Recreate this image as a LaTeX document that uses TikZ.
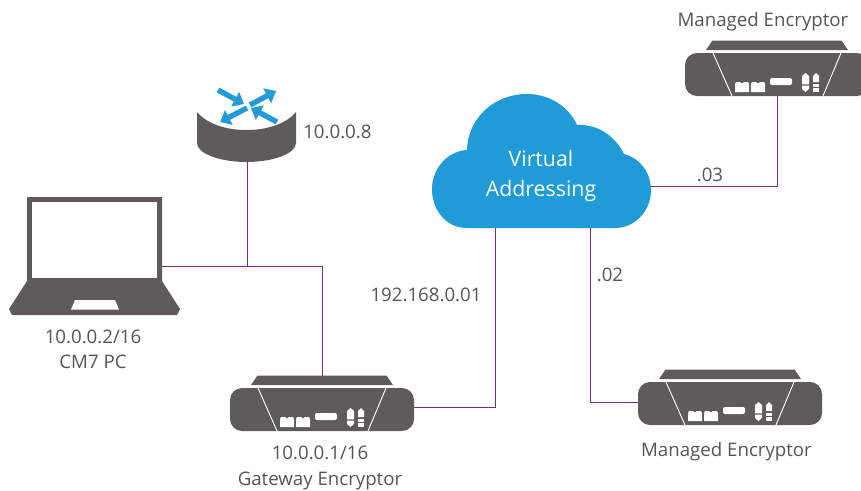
\documentclass[tikz,border=0pt]{standalone}
\usepackage{fontspec}
\setmainfont{Open Sans}
\usetikzlibrary{arrows.meta}
\definecolor{dev}{HTML}{5F5B5C}
\definecolor{cloudb}{HTML}{209BD7}
\definecolor{wire}{HTML}{7B2D7F}
\definecolor{txt}{HTML}{555555}
\tikzset{
  x=0.75pt,y=-0.75pt,
  wirel/.style={draw=wire,line width=0.75pt},
  lab/.style={text=txt,font=\fontsize{14}{19}\selectfont,align=center,inner sep=0pt},
  iconbox/.style={inner sep=0pt,minimum width=#1*0.75pt},
  routerarrow/.style={draw=cloudb,line width=4pt,-{Triangle[length=7.5pt,width=12pt]}},
  pics/device/.style={code={
    \fill[dev] (-64.5,-34.5) -- (64.5,-34.5) -- (71,-25) -- (-71,-25) -- cycle;
    \fill[dev,rounded corners=9pt] (-92,-22) rectangle (92,21);
    \draw[white,line width=0.7pt] (-64,-22) -- (-45,21) (64,-22) -- (46,21);
    \fill[white] (-42,9) -- (-41,7) -- (-37,7) -- (-35,8.5) -- (-33,7) -- (-29,7) -- (-28,9) -- (-28,17) -- (-42,17) -- cycle;
    \fill[white] (-26,9) -- (-25,7) -- (-21,7) -- (-19,8.5) -- (-17,7) -- (-13,7) -- (-12,9) -- (-12,17) -- (-26,17) -- cycle;
    \fill[white,rounded corners=1.5pt] (-7,3) rectangle (15,10);
    \fill[white] (25,1) -- (28.5,-2) -- (32,1) -- (32,9.3) -- (25,9.3) -- cycle;
    \fill[white] (25,10.7) -- (32,10.7) -- (32,14) -- (28.5,17) -- (25,14) -- cycle;
    \fill[white] (36,1) -- (39,-2) -- (42,1) -- (42,7) -- (36,7) -- cycle;
    \fill[white] (36,8.5) rectangle (42,12);
    \fill[white] (36,13) rectangle (42,17);
  }},
}
\begin{document}
\begin{tikzpicture}
\useasboundingbox (0,0) rectangle (861,490);
% invisible nodes giving the icons their names and connection points
\node[iconbox=184,minimum height=47.55pt] (gw) at (322,407.7) {};
\node[iconbox=184,minimum height=47.55pt] (me2) at (730,402.7) {};
\node[iconbox=184,minimum height=42pt] (me1) at (777.3,68) {};
\node[iconbox=98,minimum height=54pt] (router) at (247,126) {};
\node[iconbox=133,minimum height=73.5pt] (laptop) at (95.5,266) {};
\node[iconbox=219,minimum height=63pt] (cloud) at (541.5,186) {};
% connectors
\draw[wirel] (laptop.east) -| (gw.north);
\draw[wirel] (router.south) -- (router.south |- laptop.east);
\draw[wirel] (gw.east) -| ([xshift=-34.875pt]cloud.south);
\draw[wirel] ([xshift=36.375pt]cloud.south) |- (me2.west);
\draw[wirel] (cloud.east) -| (me1.south);
% cloud
\fill[cloudb] (467,228)
  .. controls (445,228) and (432,209) .. (432,189)
  .. controls (432,168) and (448,151) .. (467,150)
  .. controls (468,118) and (494,94) .. (527,94)
  .. controls (550,94) and (569,107) .. (577,125)
  .. controls (600,124) and (616,138) .. (624,154)
  .. controls (640,158) and (651,173) .. (651,190)
  .. controls (651,211) and (635,228) .. (615,228)
  -- cycle;
\node[text=white,font=\fontsize{16}{22}\selectfont,align=center,inner sep=0pt] (cloudlab) at (541,176) {Virtual\\Addressing};
% router
\fill[dev] (197,112) .. controls (207,124) and (226,130) .. (246.5,130) .. controls (267,130) and (286,124) .. (296,112) -- (296,143) .. controls (296,154) and (272,162) .. (246.5,162) .. controls (221,162) and (197,154) .. (197,143) -- cycle;
\draw[routerarrow] (218,90) -- (244,104);
\draw[routerarrow] (250,105) -- (276,91);
\draw[routerarrow] (247,108) -- (220,122);
\draw[routerarrow] (277,122) -- (251,108);
% laptop
\fill[dev] (27,197) -- (162,197) -- (162,281) -- (180,309) -- (177,315) -- (12,315) -- (9,309) -- (27,281) -- cycle;
\fill[white] (31.5,202) rectangle (157,278);
\fill[white] (75,300) -- (115,300) -- (119,309.5) -- (71,309.5) -- cycle;
% devices
\pic at (322,410) {device};
\pic at (730,404) {device};
\pic at (777,75) {device};
% labels
\node[lab,anchor=west] (l1) at (303,132) {10.0.0.8};
\node[lab] (l2) at (93,349) {10.0.0.2/16\\CM7 PC};
\node[lab] (l3) at (320,468) {10.0.0.1/16\\Gateway Encryptor};
\node[lab] (l4) at (426,295) {192.168.0.01};
\node[lab] (l5) at (610,275) {.02};
\node[lab] (l6) at (710,175) {.03};
\node[lab] (l7) at (726.5,451.5) {Managed Encryptor};
\node[lab] (l8) at (763,21.5) {Managed Encryptor};
\end{tikzpicture}
\end{document}
